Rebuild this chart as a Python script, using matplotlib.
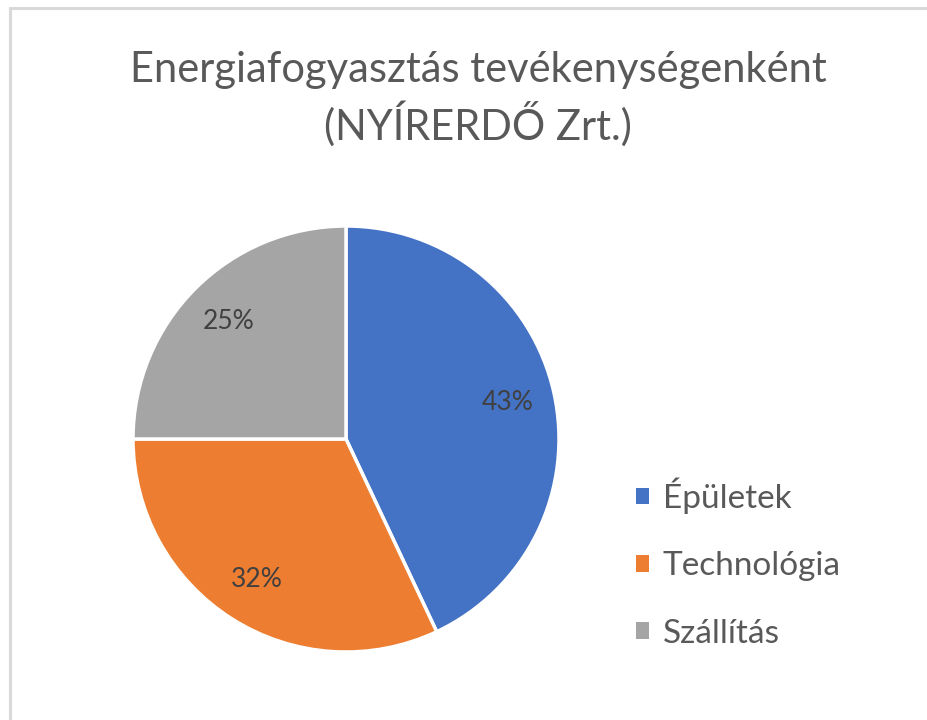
import matplotlib
matplotlib.use('Agg')
import matplotlib.pyplot as plt
from matplotlib.patches import Rectangle, Patch

# adatok
kategoriak = ['Épületek', 'Technológia', 'Szállítás']
ertekek = [43, 32, 25]
szinek = ['#4472C4', '#ED7D31', '#A5A5A5']

plt.rcParams['font.family'] = ['Lato', 'DejaVu Sans']

fig = plt.figure(figsize=(9.28, 7.2), dpi=100)

# keret
fig.patches.append(Rectangle((10/928, -0.1), 1.2, 1.1 - 8/720, transform=fig.transFigure,
                             fill=False, edgecolor='#d9d9d9', linewidth=2.2))

# cím
fig.text(478/928, 1 - 70/720, 'Energiafogyasztás tevékenységenként', ha='center', va='center',
         fontsize=30, color='#595959')
fig.text(478/928, 1 - 124/720, '(NYÍRERDŐ Zrt.)', ha='center', va='center',
         fontsize=30, color='#595959')

# kördiagram
ax = fig.add_axes([133/928, 68/720, 426/928, 426/720])
wedges, texts, autotexts = ax.pie(ertekek, colors=szinek, startangle=90, counterclock=False,
                                  autopct='%1.0f%%', pctdistance=0.78,
                                  wedgeprops=dict(edgecolor='white', linewidth=2.5),
                                  textprops=dict(fontsize=19, color='#404040'))
ax.set_xlim(-1, 1)
ax.set_ylim(-1, 1)
ax.set_aspect('equal')

# jelmagyarázat
kezelok = [Patch(facecolor=c, edgecolor='none') for c in szinek]
leg = fig.legend(kezelok, kategoriak, loc='center left', bbox_to_anchor=(636/928, 1 - 563/720),
                 frameon=False, fontsize=24, handlelength=0.4, handleheight=0.4,
                 handletextpad=0.4, labelspacing=1.12, borderpad=0, borderaxespad=0)
for t in leg.get_texts():
    t.set_color('#595959')

fig.savefig('out.png', dpi=100)
